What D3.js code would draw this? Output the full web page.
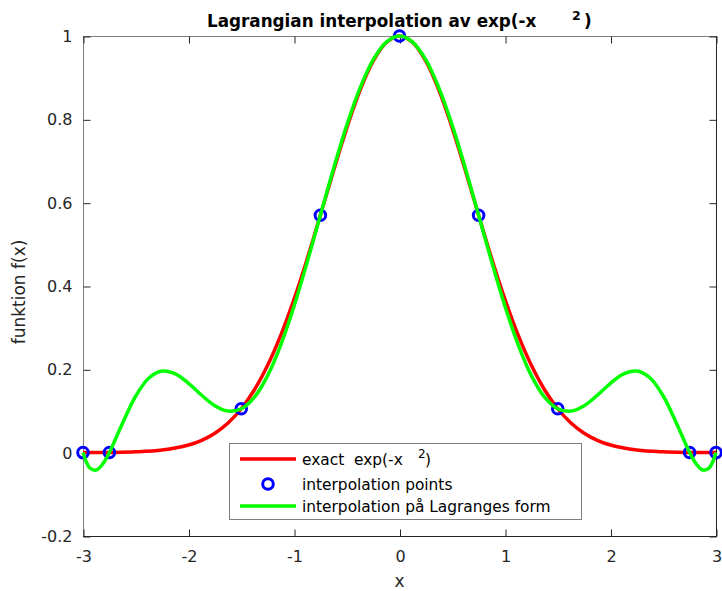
<!DOCTYPE html>
<html>
<head>
<meta charset="utf-8">
<script src="https://cdn.jsdelivr.net/npm/d3@7"></script>
<style>
  html, body { margin: 0; padding: 0; background: #fff; }
  svg { display: block; font-family: "DejaVu Sans", sans-serif; }
  text { white-space: pre; }
</style>
</head>
<body>
<svg id="chart" width="722" height="591"></svg>
<script>
// ---- data ----
const exactX = [-3, -2.75, -2.5, -2.25, -2, -1.875, -1.75, -1.625, -1.5, -1.375, -1.25, -1.125, -1, -0.875, -0.75, -0.625, -0.5, -0.375, -0.25, -0.125,
  0, 0.125, 0.25, 0.375, 0.5, 0.625, 0.75, 0.875, 1, 1.125, 1.25, 1.375, 1.5, 1.625, 1.75, 1.875, 2, 2.25, 2.5, 2.75, 3];
const exactY = [0.00012, 0.00052, 0.00193, 0.00633, 0.01832, 0.02973, 0.04677, 0.07131, 0.10540, 0.15097, 0.20961, 0.28206, 0.36788, 0.46504, 0.56978, 0.67663, 0.77880, 0.86882, 0.93941, 0.98450,
  1, 0.98450, 0.93941, 0.86882, 0.77880, 0.67663, 0.56978, 0.46504, 0.36788, 0.28206, 0.20961, 0.15097, 0.10540, 0.07131, 0.04677, 0.02973, 0.01832, 0.00633, 0.00193, 0.00052, 0.00012];

const lagrangeX = [-3, -2.9375, -2.875, -2.8125, -2.75, -2.625, -2.5, -2.375, -2.25, -2.125, -2, -1.875, -1.75, -1.625, -1.5, -1.375, -1.25, -1.125, -1, -0.875, -0.75, -0.625, -0.5, -0.375, -0.25, -0.125,
  0, 0.125, 0.25, 0.375, 0.5, 0.625, 0.75, 0.875, 1, 1.125, 1.25, 1.375, 1.5, 1.625, 1.75, 1.875, 2, 2.125, 2.25, 2.375, 2.5, 2.625, 2.75, 2.8125, 2.875, 2.9375, 3];
const lagrangeY = [0.00012, -0.03598, -0.04181, -0.02700, 0.00052, 0.07076, 0.13600, 0.17916, 0.19575, 0.18896, 0.16644, 0.13779, 0.11275, 0.09980, 0.10540, 0.13339, 0.18501, 0.25888, 0.35144, 0.45728, 0.56978, 0.68165, 0.78551, 0.87448, 0.94262, 0.98541,
  1, 0.98541, 0.94262, 0.87448, 0.78551, 0.68165, 0.56978, 0.45728, 0.35144, 0.25888, 0.18501, 0.13339, 0.10540, 0.09980, 0.11275, 0.13779, 0.16644, 0.18896, 0.19575, 0.17916, 0.13600, 0.07076, 0.00052, -0.02700, -0.04181, -0.03598, 0.00012];

const pointsX = [-3, -2.75, -1.5, -0.75, 0, 0.75, 1.5, 2.75, 3];
const pointsY = [0.00012, 0.00052, 0.10540, 0.56978, 1, 0.56978, 0.10540, 0.00052, 0.00012];

const xTicks = [-3, -2, -1, 0, 1, 2, 3];
const yTicks = [-0.2, 0, 0.2, 0.4, 0.6, 0.8, 1];

const legendLabels = ["exact  exp(-x", "interpolation points", "interpolation på Lagranges form"];

// ---- layout ----
const svg = d3.select("#chart");
const L = 83, R = 716, T = 36, B = 536;
const x = d3.scaleLinear().domain([-3, 3]).range([L, R]);
const y = d3.scaleLinear().domain([-0.2, 1]).range([B, T]);

const axisCol = "#262626";
const tickLen = 7;
const tickFont = 16;

// axes box
svg.append("line").attr("x1", L).attr("x2", R).attr("y1", T + 0.5).attr("y2", T + 0.5).attr("stroke", "#7f7f7f");
svg.append("line").attr("x1", L + 0.5).attr("x2", L + 0.5).attr("y1", T).attr("y2", B).attr("stroke", "#7f7f7f");
svg.append("line").attr("x1", L).attr("x2", R + 1).attr("y1", B + 0.5).attr("y2", B + 0.5).attr("stroke", axisCol);
svg.append("line").attr("x1", R + 0.5).attr("x2", R + 0.5).attr("y1", T).attr("y2", B + 1).attr("stroke", axisCol);

// bottom axis
const xAxisB = d3.axisBottom(x).tickValues(xTicks).tickSizeInner(-tickLen).tickSizeOuter(0).tickPadding(14).tickFormat(d => String(d));
const gxb = svg.append("g").attr("transform", `translate(0.5,${B + 0.5})`).call(xAxisB);
gxb.select(".domain").remove();
gxb.selectAll("line").attr("stroke", axisCol);
gxb.selectAll("text").attr("fill", axisCol).attr("font-size", tickFont).attr("font-family", "DejaVu Sans, sans-serif");

// top axis ticks
const xAxisT = d3.axisTop(x).tickValues(xTicks).tickSizeInner(-tickLen).tickSizeOuter(0).tickFormat("");
const gxt = svg.append("g").attr("transform", `translate(0.5,${T + 0.5})`).call(xAxisT);
gxt.select(".domain").remove();
gxt.selectAll("line").attr("stroke", axisCol);

// left axis
const yAxisL = d3.axisLeft(y).tickValues(yTicks).tickSizeInner(-tickLen).tickSizeOuter(0).tickPadding(11).tickFormat(d => String(+d.toFixed(1)));
const gyl = svg.append("g").attr("transform", `translate(${L + 0.5},0.5)`).call(yAxisL);
gyl.select(".domain").remove();
gyl.selectAll("line").attr("stroke", axisCol);
gyl.selectAll("text").attr("fill", axisCol).attr("font-size", tickFont).attr("font-family", "DejaVu Sans, sans-serif");

// right axis ticks
const yAxisR = d3.axisRight(y).tickValues(yTicks).tickSizeInner(-tickLen).tickSizeOuter(0).tickFormat("");
const gyr = svg.append("g").attr("transform", `translate(${R + 0.5},0.5)`).call(yAxisR);
gyr.select(".domain").remove();
gyr.selectAll("line").attr("stroke", axisCol);

// ---- series ----
const lineGen = d3.line().x(d => x(d[0])).y(d => y(d[1])).curve(d3.curveCatmullRom);

svg.append("path")
  .datum(d3.zip(exactX, exactY))
  .attr("d", lineGen)
  .attr("fill", "none").attr("stroke", "#ff0000").attr("stroke-width", 3.5).attr("stroke-linejoin", "round");

svg.append("g").selectAll("circle")
  .data(d3.zip(pointsX, pointsY))
  .join("circle")
  .attr("cx", d => x(d[0])).attr("cy", d => y(d[1])).attr("r", 5.3)
  .attr("fill", "none").attr("stroke", "#0000ff").attr("stroke-width", 3);

svg.append("path")
  .datum(d3.zip(lagrangeX, lagrangeY))
  .attr("d", lineGen)
  .attr("fill", "none").attr("stroke", "#00ff00").attr("stroke-width", 3.5).attr("stroke-linejoin", "round");

// ---- title ----
const title = svg.append("text")
  .attr("x", 207).attr("y", 27)
  .attr("font-size", 16.8).attr("font-weight", "bold").attr("fill", "#000");
title.append("tspan").text("Lagrangian interpolation av exp(-x");
title.append("tspan").attr("x", 572).attr("dy", -7).attr("font-size", 12.5).text("2");
title.append("tspan").attr("x", 584).attr("dy", 7).text(")");

// axis labels
svg.append("text").attr("x", (L + R) / 2).attr("y", 587).attr("text-anchor", "middle")
  .attr("font-size", 17).attr("fill", axisCol).text("x");
svg.append("text").attr("transform", `translate(25,292) rotate(-90)`).attr("text-anchor", "middle")
  .attr("font-size", 17).attr("fill", axisCol).text("funktion f(x)");

// ---- legend ----
const legFont = 15.4;
const lg = svg.append("g");
lg.append("rect").attr("x", 229.5).attr("y", 443.5).attr("width", 352).attr("height", 76)
  .attr("fill", "#fff").attr("stroke", "#7f7f7f").attr("stroke-width", 1);
const rowY = [459, 484, 506];
lg.append("line").attr("x1", 240).attr("x2", 296).attr("y1", rowY[0]).attr("y2", rowY[0]).attr("stroke", "#ff0000").attr("stroke-width", 3.5);
lg.append("circle").attr("cx", 268).attr("cy", rowY[1]).attr("r", 5.3).attr("fill", "none").attr("stroke", "#0000ff").attr("stroke-width", 3);
lg.append("line").attr("x1", 240).attr("x2", 296).attr("y1", rowY[2]).attr("y2", rowY[2]).attr("stroke", "#00ff00").attr("stroke-width", 3.5);

const t0 = lg.append("text").attr("x", 302).attr("y", rowY[0] + 6).attr("font-size", legFont).attr("fill", "#000");
t0.append("tspan").text(legendLabels[0]);
t0.append("tspan").attr("x", 418).attr("dy", -7).attr("font-size", 12).text("2");
t0.append("tspan").attr("x", 425).attr("dy", 7).text(")");
lg.append("text").attr("x", 302).attr("y", rowY[1] + 6).attr("font-size", legFont).attr("fill", "#000").text(legendLabels[1]);
lg.append("text").attr("x", 302).attr("y", rowY[2] + 6).attr("font-size", legFont).attr("fill", "#000").text(legendLabels[2]);
</script>
</body>
</html>
